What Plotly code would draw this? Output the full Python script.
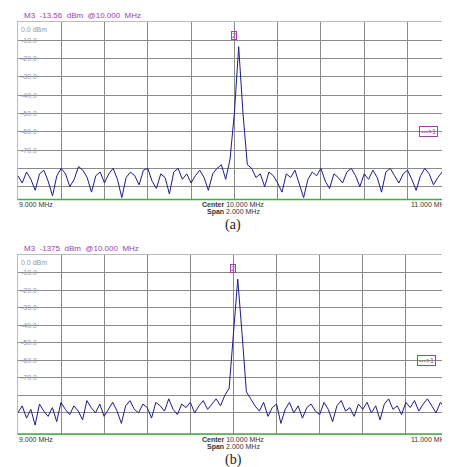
import numpy as np
import plotly.graph_objects as go

# trace levels in dBm
noise_a = [-84, -88, -82, -86, -92, -83, -81, -87, -95, -84, -80, -83, -90, -86, -79, -81, -85, -93, -84, -82,
           -88, -83, -80, -86, -96, -85, -82, -84, -89, -81, -80, -87, -91, -83, -85, -94, -82, -80, -86, -83,
           -88, -84, -81, -85, -92, -83, -80, -78, -86, -75, -50, -13.5, -50, -78, -80, -85, -83, -90, -82, -84,
           -88, -93, -83, -85, -81, -89, -96, -86, -82, -84, -80, -87, -91, -83, -85, -88, -82, -80, -84, -90,
           -83, -86, -81, -85, -93, -82, -80, -84, -88, -83, -81, -86, -92, -84, -80, -83, -89, -85, -82, -86, -84]
noise_b = [-90, -86, -93, -88, -97, -85, -89, -92, -87, -95, -84, -88, -91, -86, -89, -94, -83, -87, -90, -85,
           -92, -88, -84, -89, -96, -86, -83, -88, -90, -85, -87, -93, -84, -86, -89, -82, -88, -91, -85, -87,
           -84, -90, -86, -83, -88, -85, -82, -86, -80, -76, -45, -13.75, -45, -78, -82, -86, -89, -84, -92, -87,
           -85, -96, -88, -84, -90, -86, -93, -87, -85, -89, -91, -84, -88, -95, -86, -83, -89, -87, -92, -85,
           -88, -84, -90, -86, -94, -85, -82, -88, -86, -91, -84, -87, -83, -89, -85, -82, -86, -90, -84, -87, -85]
freq_a = np.linspace(9.0, 11.0, len(noise_a))
freq_b = np.linspace(9.0, 11.0, len(noise_b))
db_ticks = [-10, -20, -30, -40, -50, -60, -70, -80, -90]
db_labels = ['-10.0', '-20.0', '-30.0', '-40.0', '-50.0', '-60.0', '-70.0', '', '']

grid = '#8a8a8a'
line_col = '#1c1c8a'
purple = '#a040a8'

fig = go.Figure()
fig.add_trace(go.Scatter(x=freq_a, y=noise_a, mode='lines', line=dict(color=line_col, width=1), xaxis='x', yaxis='y'))
fig.add_trace(go.Scatter(x=freq_b, y=noise_b, mode='lines', line=dict(color=line_col, width=1), xaxis='x2', yaxis='y2'))

ax = dict(showgrid=True, gridcolor=grid, gridwidth=1, dtick=0.2, range=[9.0, 11.0], showticklabels=False,
          zeroline=False, showline=True, linecolor='#bbbbbb', mirror=True, ticks='')
ay = dict(showgrid=True, gridcolor=grid, gridwidth=1, tickvals=db_ticks, showticklabels=False,
          zeroline=False, showline=True, linecolor='#bbbbbb', mirror=True)
fig.update_layout(
    width=450, height=467, margin=dict(l=0, r=0, t=0, b=0), showlegend=False,
    paper_bgcolor='white', plot_bgcolor='white',
    xaxis=dict(ax, domain=[0.022, 0.984], anchor='y'),
    yaxis=dict(ay, domain=[0.59, 0.97], range=[-97, 0], anchor='x'),
    xaxis2=dict(ax, domain=[0.022, 0.98], anchor='y2'),
    yaxis2=dict(ay, domain=[0.088, 0.471], range=[-102, 0], anchor='x2'),
    font=dict(family='Liberation Sans', size=8, color='#333333'),
)

ann = []
for xr, yr, top, bot, lab_y, title in [('x', 'y', 0.97, 0.59, 0.556, 'M3  -13.56  dBm  @10.000  MHz'),
                                       ('x2', 'y2', 0.471, 0.088, 0.054, 'M3  -1375  dBm  @10.000  MHz')]:
    ann.append(dict(xref='paper', yref='paper', x=0.03, y=top, text=title, showarrow=False,
                    xanchor='left', yanchor='bottom', font=dict(color=purple, size=8)))
    ann.append(dict(xref=xr + ' domain', yref=yr, x=0.003, y=-1, text='0.0 dBm', showarrow=False,
                    xanchor='left', yanchor='top', font=dict(color='#999999', size=7)))
    for v, t in zip(db_ticks, db_labels):
        if t:
            ann.append(dict(xref=xr + ' domain', yref=yr, x=0.003, y=v, text=t, showarrow=False,
                            xanchor='left', font=dict(color='#999999', size=7)))
    ann.append(dict(xref='paper', yref='paper', x=0.02, y=bot, text='9.000 MHz', showarrow=False,
                    xanchor='left', yanchor='top', font=dict(size=7)))
    ann.append(dict(xref='paper', yref='paper', x=0.985, y=bot, text='11.000 MHz', showarrow=False,
                    xanchor='right', yanchor='top', font=dict(size=7)))
    ann.append(dict(xref='paper', yref='paper', x=0.5, y=bot, text='<b>Center</b> 10.000 MHz',
                    showarrow=False, yanchor='top', font=dict(size=7)))
    ann.append(dict(xref='paper', yref='paper', x=0.5, y=bot - 0.015, text='<b>Span</b> 2.000 MHz',
                    showarrow=False, yanchor='top', font=dict(size=7)))
    ann.append(dict(xref='paper', yref='paper', x=0.5, y=lab_y, text='(a)' if xr == 'x' else '(b)', showarrow=False,
                    yanchor='top', font=dict(family='Liberation Serif', size=14, color='#222222')))
    ann.append(dict(xref=xr, yref=yr, x=10.0, y=-10, text='2', showarrow=False, yanchor='bottom',
                    bordercolor=purple, borderwidth=1, borderpad=0, font=dict(color=purple, size=7)))
    ann.append(dict(xref=xr + ' domain', yref=yr, x=0.97, y=-60, text='--->1', showarrow=False, xanchor='right',
                    bordercolor=purple, borderwidth=1, borderpad=1, font=dict(color=purple, size=7)))
fig.update_layout(annotations=ann)
fig.add_shape(type='line', xref='paper', yref='paper', x0=0.022, x1=0.984, y0=0.59, y1=0.59,
              line=dict(color='#44aa44', width=1.5))
fig.add_shape(type='line', xref='paper', yref='paper', x0=0.022, x1=0.98, y0=0.088, y1=0.088,
              line=dict(color='#44aa44', width=1.5))
fig.add_shape(type='line', xref='paper', yref='paper', x0=0.981, x1=0.981, y0=0.088, y1=0.49,
              line=dict(color='#222222', width=2))
fig.write_html("out.html")
